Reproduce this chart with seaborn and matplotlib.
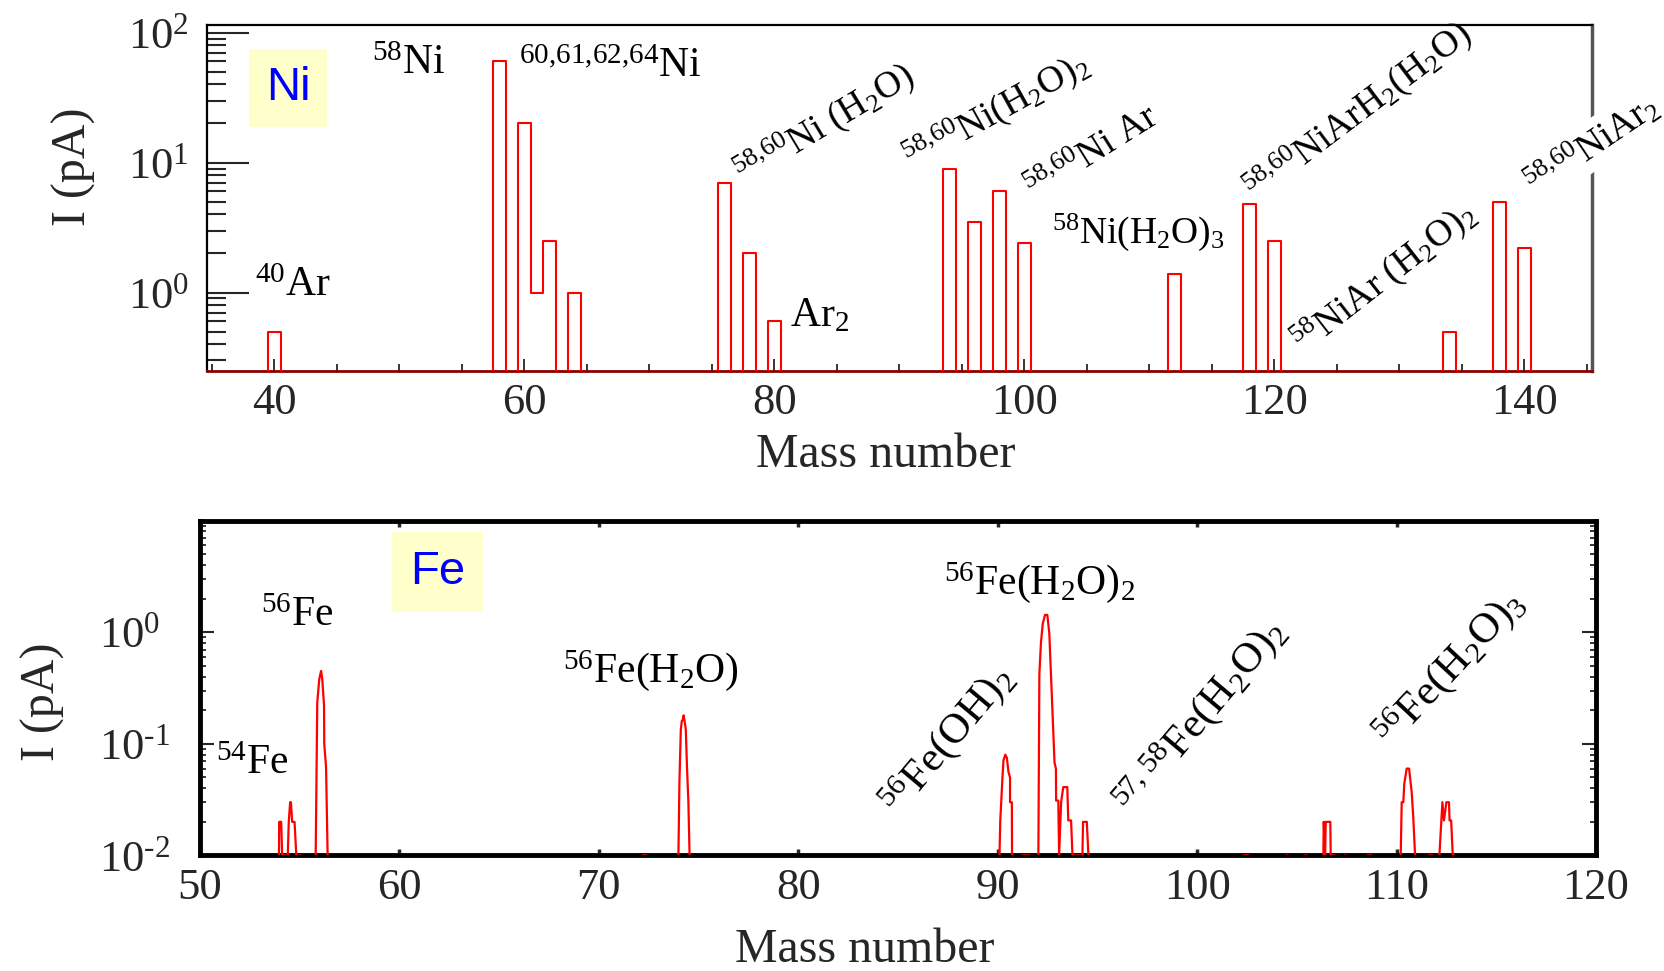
import numpy as np
import pandas as pd
import matplotlib
matplotlib.use("Agg")
import matplotlib.pyplot as plt
import seaborn as sns
from matplotlib.ticker import LogLocator, MultipleLocator, NullFormatter, LogFormatterMathtext

# ---------------- data ----------------
# Ni panel: integrated ion current per integer mass (pA)
ni_mass = [40, 58, 60, 61, 62, 64, 76, 78, 80, 94, 96, 98, 100, 112, 118, 120, 134, 138, 140]
ni_current = [0.5, 60, 20, 1.0, 2.5, 1.0, 7.0, 2.0, 0.6, 9.0, 3.5, 6.0, 2.4, 1.4, 4.8, 2.5, 0.5, 5.0, 2.2]
ni_xticks = [40, 60, 80, 100, 120, 140]

# Fe panel: scanned mass spectrum, one small array per peak group (mass, pA)
fe54_mass = [53.96, 53.97, 54.07, 54.12, 54.40, 54.45, 54.52, 54.56, 54.62, 54.74, 54.83]
fe54_current = [0.01, 0.02, 0.02, 0.01, 0.01, 0.02, 0.03, 0.03, 0.02, 0.02, 0.01]
fe55_mass = [54.97, 55.03]
fe55_current = [0.01, 0.01]
fe56_mass = [55.80, 55.88, 55.98, 56.07, 56.13, 56.22, 56.23, 56.32, 56.40]
fe56_current = [0.01, 0.235, 0.38, 0.45, 0.38, 0.22, 0.10, 0.062, 0.01]
fe72_mass = [72.2, 72.4]
fe72_current = [0.01, 0.01]
fe74_mass = [73.99, 74.04, 74.11, 74.16, 74.21, 74.25, 74.30, 74.36, 74.42, 74.49, 74.55]
fe74_current = [0.01, 0.045, 0.134, 0.16, 0.165, 0.18, 0.16, 0.134, 0.062, 0.03, 0.01]
fe90_mass = [90.09, 90.13, 90.24, 90.29, 90.38, 90.46, 90.54, 90.62, 90.62, 90.71, 90.72]
fe90_current = [0.01, 0.0206, 0.05, 0.071, 0.08, 0.075, 0.056, 0.05, 0.03, 0.03, 0.01]
fe91_mass = [91.2, 91.6]
fe91_current = [0.01, 0.01]
fe92_mass = [92.04, 92.09, 92.17, 92.26, 92.37, 92.49, 92.59, 92.66, 92.76, 92.85, 92.92, 92.93,
             93.04, 93.08, 93.18, 93.29, 93.49, 93.54, 93.68, 93.75, 94.25, 94.28, 94.47, 94.55]
fe92_current = [0.01, 0.42, 0.81, 1.19, 1.43, 1.43, 0.97, 0.48, 0.17, 0.068, 0.06, 0.031,
                0.031, 0.01, 0.03, 0.041, 0.041, 0.0206, 0.0206, 0.01, 0.01, 0.02, 0.02, 0.01]
fe102_mass = [102.3, 102.6]
fe102_current = [0.01, 0.01]
fe104_mass = [104.48, 104.55]
fe104_current = [0.01, 0.01]
fe105_mass = [105.4, 105.5]
fe105_current = [0.01, 0.01]
fe106_mass = [106.33, 106.35, 106.42, 106.45, 106.68, 106.70, 106.92]
fe106_current = [0.01, 0.02, 0.01, 0.02, 0.02, 0.01, 0.01]
fe107_mass = [107.42, 107.47]
fe107_current = [0.01, 0.01]
fe108_mass = [108.54, 108.76]
fe108_current = [0.01, 0.01]
fe110_mass = [110.21, 110.26, 110.34, 110.39, 110.51, 110.63, 110.68, 110.76, 110.84, 110.93]
fe110_current = [0.01, 0.03, 0.03, 0.044, 0.06, 0.06, 0.05, 0.037, 0.022, 0.01]
fe111_mass = [111.6, 111.8]
fe111_current = [0.01, 0.01]
fe112_mass = [112.15, 112.30, 112.38, 112.50, 112.63, 112.66, 112.74, 112.82, 112.90]
fe112_current = [0.01, 0.03, 0.0206, 0.03, 0.03, 0.0206, 0.0206, 0.01, 0.01]
fe_xticks = [50, 60, 70, 80, 90, 100, 110, 120]
fe_yticks = [0.01, 0.1, 1, 10]
fe_yticklabels = [r'$10^{\text{-}2}$', r'$10^{\text{-}1}$', r'$10^{0}$', '']

fe_groups = [(fe54_mass, fe54_current), (fe55_mass, fe55_current), (fe56_mass, fe56_current),
             (fe72_mass, fe72_current), (fe74_mass, fe74_current), (fe90_mass, fe90_current),
             (fe91_mass, fe91_current), (fe92_mass, fe92_current), (fe102_mass, fe102_current),
             (fe104_mass, fe104_current), (fe105_mass, fe105_current), (fe106_mass, fe106_current),
             (fe107_mass, fe107_current), (fe108_mass, fe108_current), (fe110_mass, fe110_current),
             (fe111_mass, fe111_current), (fe112_mass, fe112_current)]

# labels
ni_annotations = [
    (r'$^{58}$Ni', 50.7, 58.0, 0, 30),
    (r'$^{60{,}61{,}62{,}64}$Ni', 66.9, 55.0, 0, 30),
    (r'$^{40}$Ar', 41.5, 1.13, 0, 30),
    (r'Ar$_2$', 83.6, 0.66, 0, 30),
    (r'$^{58{,}60}$Ni (H$_2$O)', 84.0, 19.5, 31, 27),
    (r'$^{58{,}60}$Ni(H$_2$O)$_2$', 97.8, 24.8, 29, 27),
    (r'$^{58{,}60}$Ni Ar', 105.5, 11.7, 32, 27),
    (r'$^{58}$Ni(H$_2$O)$_3$', 109.1, 2.88, 0, 27),
    (r'$^{58{,}60}$NiArH$_2$(H$_2$O)', 126.7, 24.8, 37, 27),
    (r'$^{58}$NiAr (H$_2$O)$_2$', 128.8, 1.3, 38, 27),
]
ni_edge_label = (r'$^{58{,}60}$NiAr$_2$', 145.4, 13.6, 34, 27)
fe_annotations = [
    (r'$^{54}$Fe', 52.6, 0.067, 0, 30),
    (r'$^{56}$Fe', 54.9, 1.41, 0, 30),
    (r'$^{56}$Fe(H$_2$O)', 72.6, 0.45, 0, 30),
    (r'$^{56}$Fe(H$_2$O)$_2$', 92.1, 2.78, 0, 30),
    (r'$^{56}$Fe(OH)$_2$', 87.5, 0.108, 50, 31),
    (r'$^{57{,}\ 58}$Fe(H$_2$O)$_2$', 100.2, 0.175, 50, 31),
    (r'$^{56}$Fe(H$_2$O)$_3$', 112.7, 0.47, 47, 31),
]

# ---------------- style ----------------
sns.set_style("ticks")
plt.rcParams['font.family'] = ['Liberation Serif', 'DejaVu Serif']
plt.rcParams['mathtext.fontset'] = 'custom'
plt.rcParams['mathtext.rm'] = 'Liberation Serif'
plt.rcParams['mathtext.it'] = 'Liberation Serif:italic'
plt.rcParams['mathtext.bf'] = 'Liberation Serif:bold'
plt.rcParams['axes.unicode_minus'] = False

TICK_FS = 32
LABEL_FS = 34.5

fig = plt.figure(figsize=(16.64, 9.71), dpi=100)
ax1 = fig.add_axes([0.1244, 0.6182, 0.8323, 0.3561])
ax2 = fig.add_axes([0.1202, 0.1190, 0.8389, 0.3448])

# ---------------- Ni panel ----------------
ni_df = pd.DataFrame({'mass': np.asarray(ni_mass, float), 'current': np.asarray(ni_current, float)})
edges = [34.5 + i for i in range(112)]
sns.histplot(data=ni_df, x='mass', weights='current', bins=edges, element="step", fill=False,
             color="red", linewidth=1.5, ax=ax1, zorder=3)
ax1.set_yscale('log')
ax1.set_xlim(34.6, 145.4)
ax1.set_ylim(0.25, 114.6)
ax1.set_xticks(ni_xticks)
ax1.set_xticklabels([str(v) for v in ni_xticks])
ax1.xaxis.set_minor_locator(MultipleLocator(5))
ax1.yaxis.set_major_locator(LogLocator(base=10, numticks=10))
ax1.yaxis.set_major_formatter(LogFormatterMathtext())
ax1.yaxis.set_minor_locator(LogLocator(base=10, subs=np.arange(2, 10), numticks=20))
ax1.yaxis.set_minor_formatter(NullFormatter())
ax1.tick_params(axis='x', which='major', direction='in', length=9, width=1.3,
                bottom=True, top=False, labelsize=TICK_FS, pad=9)
ax1.tick_params(axis='x', which='minor', direction='in', length=5, width=1.3, bottom=True, top=False)
ax1.tick_params(axis='y', which='major', direction='in', length=30, width=1.5,
                left=True, right=False, labelsize=TICK_FS, pad=13)
ax1.tick_params(axis='y', which='minor', direction='in', length=14, width=1.5, left=True, right=False)
for side in ['top', 'left']:
    ax1.spines[side].set_linewidth(1.6)
    ax1.spines[side].set_color('black')
ax1.spines['right'].set_linewidth(2.5)
ax1.spines['right'].set_color('#555555')
ax1.spines['bottom'].set_linewidth(2.0)
ax1.spines['bottom'].set_color('#8a0000')
ax1.set_xlabel('Mass number', fontsize=LABEL_FS)
ax1.set_ylabel('I (pA)', fontsize=LABEL_FS)
ax1.xaxis.set_label_coords(0.49, -0.18)
ax1.yaxis.set_label_coords(-0.080, 0.59)

ax1.text(0.0585, 0.819, 'Ni', transform=ax1.transAxes, ha='center', va='center',
         color='blue', fontsize=34, family='Liberation Sans',
         bbox=dict(boxstyle='square,pad=0.36', fc='#ffffcc', ec='none'))
for txt, x, y, rot, fs in ni_annotations:
    ax1.text(x, y, txt, ha='center', va='center', rotation=rot, rotation_mode='anchor',
             fontsize=fs, color='black')
txt, x, y, rot, fs = ni_edge_label
ax1.text(x, y, txt, ha='center', va='center', rotation=rot, rotation_mode='anchor',
         fontsize=fs, color='black', clip_on=False, zorder=6,
         bbox=dict(boxstyle='square,pad=0.1', fc='white', ec='none'))

# ---------------- Fe panel ----------------
fe_mass = []
fe_current = []
for m, c in fe_groups:
    fe_mass += [m[0]] + list(m) + [m[-1]]
    fe_current += [0.0] + list(c) + [0.0]
fe_df = pd.DataFrame({'mass': np.asarray(fe_mass, float), 'current': np.asarray(fe_current, float)})
sns.lineplot(data=fe_df, x='mass', y='current', estimator=None, sort=False, color='red',
             linewidth=1.6, ax=ax2, zorder=3)
ax2.set_yscale('log')
ax2.set_xlim(50, 120)
ax2.set_ylim(0.01, 10)
ax2.set_xticks(fe_xticks)
ax2.set_xticklabels([str(v) for v in fe_xticks])
ax2.set_yticks(fe_yticks)
ax2.set_yticklabels(fe_yticklabels)
for lab in ax2.get_yticklabels():
    lab.set_horizontalalignment('left')
ax2.yaxis.set_minor_locator(LogLocator(base=10, subs=np.arange(2, 10), numticks=20))
ax2.yaxis.set_minor_formatter(NullFormatter())
ax2.tick_params(axis='x', which='major', direction='in', length=4, width=2.5,
                bottom=True, top=True, labelsize=TICK_FS, pad=9)
ax2.tick_params(axis='y', which='major', direction='in', length=10, width=1.5,
                left=True, right=True, labelsize=TICK_FS, pad=73)
ax2.tick_params(axis='y', which='minor', direction='in', length=4, width=1.3, left=True, right=True)
for side in ['top', 'left', 'right', 'bottom']:
    ax2.spines[side].set_linewidth(3.5)
    ax2.spines[side].set_color('black')
ax2.set_xlabel('Mass number', fontsize=LABEL_FS)
ax2.set_ylabel('I (pA)', fontsize=LABEL_FS)
ax2.xaxis.set_label_coords(0.476, -0.218)
ax2.yaxis.set_label_coords(-0.097, 0.458)

ax2.text(0.170, 0.847, 'Fe', transform=ax2.transAxes, ha='center', va='center',
         color='blue', fontsize=34, family='Liberation Sans',
         bbox=dict(boxstyle='square,pad=0.38', fc='#ffffcc', ec='none'))
for txt, x, y, rot, fs in fe_annotations:
    ax2.text(x, y, txt, ha='center', va='center', rotation=rot, rotation_mode='anchor',
             fontsize=fs, color='black')

fig.savefig('out.png', dpi=100)
